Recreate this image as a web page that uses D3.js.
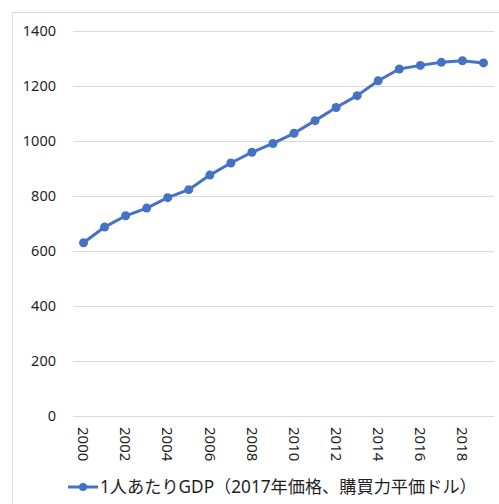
<!DOCTYPE html>
<html>
<head>
<meta charset="utf-8">
<script src="https://cdn.jsdelivr.net/npm/d3@7"></script>
<style>
  html, body { margin: 0; padding: 0; background: #fff; }
  svg { display: block; }
</style>
</head>
<body>
<svg id="chart" width="499" height="504"></svg>
<script>
// Per-capita GDP series, years 2000–2019
const years = d3.range(2000, 2020).map(String);
const gdpPerCapita = [630, 687, 728, 756, 794, 823, 876, 920, 959, 991,
                      1028, 1074, 1122, 1165, 1219, 1262, 1275, 1286, 1292, 1284];
const yTicks = [0, 200, 400, 600, 800, 1000, 1200, 1400];
const seriesName = "1人あたりGDP（2017年価格、購買力平価ドル）";

const svg = d3.select("#chart");
const W = 499, H = 504;
const plot = { left: 73, right: 494, top: 31, bottom: 416 };
const blue = "#4472C4";
const fontStack = '"Noto Sans", "Noto Sans CJK JP", sans-serif';
const textColor = "#1f1f1f";

// chart area frame
svg.append("rect")
  .attr("x", 12.5).attr("y", 12.5)
  .attr("width", W + 10).attr("height", H + 10)
  .attr("fill", "#fff").attr("stroke", "#d9d9d9").attr("stroke-width", 1);

const x = d3.scaleBand().domain(years).range([plot.left, plot.right]);
const y = d3.scaleLinear().domain([0, 1400]).range([plot.bottom, plot.top]);

// horizontal gridlines
svg.append("g")
  .selectAll("line")
  .data(yTicks)
  .join("line")
  .attr("x1", plot.left).attr("x2", plot.right)
  .attr("y1", d => Math.round(y(d)) + 0.5).attr("y2", d => Math.round(y(d)) + 0.5)
  .attr("stroke", "#d9d9d9").attr("stroke-width", 1);

// y axis labels
const yAxis = d3.axisLeft(y).tickValues(yTicks).tickFormat(d3.format("d"))
  .tickSize(0).tickPadding(0);
svg.append("g")
  .attr("transform", `translate(${plot.left - 17},0)`)
  .call(yAxis)
  .call(g => g.select(".domain").remove())
  .call(g => g.selectAll("text")
    .attr("font-family", fontStack).attr("font-size", 14.5).attr("fill", textColor));

// x axis labels, rotated, every second year
const xAxis = d3.axisBottom(x)
  .tickValues(years.filter((d, i) => i % 2 === 0))
  .tickSize(0).tickPadding(0);
svg.append("g")
  .attr("transform", `translate(0,${plot.bottom})`)
  .call(xAxis)
  .call(g => g.select(".domain").remove())
  .call(g => g.selectAll("text")
    .attr("font-family", fontStack).attr("font-size", 15).attr("fill", textColor)
    .attr("transform", "rotate(90)")
    .attr("x", 11).attr("y", 0).attr("dy", "0.35em")
    .attr("text-anchor", "start"));

// series line
const cx = d => x(d) + x.bandwidth() / 2;
const line = d3.line()
  .x((d, i) => cx(years[i]))
  .y(d => y(d));
svg.append("path")
  .datum(gdpPerCapita)
  .attr("d", line)
  .attr("fill", "none")
  .attr("stroke", blue).attr("stroke-width", 3)
  .attr("stroke-linejoin", "round");

svg.append("g")
  .selectAll("circle")
  .data(gdpPerCapita)
  .join("circle")
  .attr("cx", (d, i) => cx(years[i]))
  .attr("cy", d => y(d))
  .attr("r", 4.5)
  .attr("fill", blue);

// legend
const lg = svg.append("g").attr("transform", "translate(68,487)");
lg.append("line").attr("x1", 0).attr("x2", 30).attr("y1", 0).attr("y2", 0)
  .attr("stroke", blue).attr("stroke-width", 3);
lg.append("circle").attr("cx", 15).attr("cy", 0).attr("r", 4).attr("fill", blue);
lg.append("text").attr("x", 32).attr("y", 0).attr("dy", "0.35em")
  .attr("font-family", fontStack).attr("font-size", 17.2).attr("fill", textColor)
  .text(seriesName);
</script>
</body>
</html>
